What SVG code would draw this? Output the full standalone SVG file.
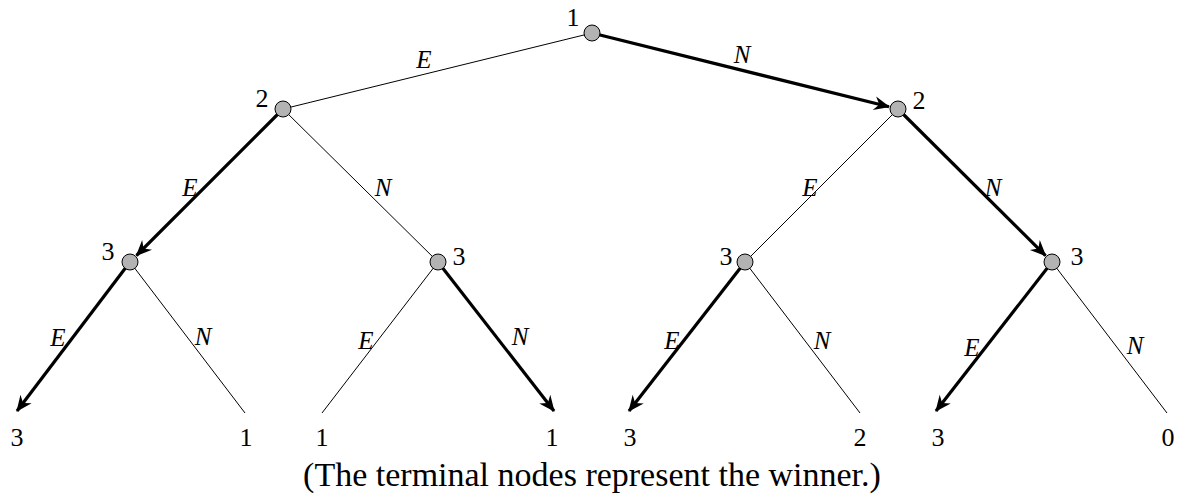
<svg xmlns="http://www.w3.org/2000/svg" width="1187" height="498" viewBox="0 0 1187 498">
<style>
.thin{stroke:#000;stroke-width:1;fill:none}
.bold{stroke:#000;stroke-width:3.2;fill:none}
.arr{marker-end:url(#ah)}
.node{fill:#b3b3b3;stroke:#000;stroke-width:1}
.lbl{font-family:"Liberation Serif","DejaVu Serif",serif;font-size:26px;fill:#000}
.el{font-family:"Liberation Serif","DejaVu Serif",serif;font-size:25px;font-style:italic;fill:#000}
.cap{font-family:"Liberation Serif","DejaVu Serif",serif;font-size:34px;fill:#000}
</style>
<defs>
<marker id="ah" markerUnits="userSpaceOnUse" viewBox="-16 -8 18 16" refX="0" refY="0" markerWidth="18" markerHeight="16" orient="auto">
<path d="M1,0 L-15,-7 L-10,0 L-15,7 Z" fill="#000"/>
</marker>
</defs>
<g id="connectors">
<line class="thin" x1="592" y1="33" x2="283" y2="109"/>
<line class="bold arr" x1="592" y1="33" x2="889" y2="106.8"/>
<line class="bold arr" x1="283" y1="109" x2="136.5" y2="255.5"/>
<line class="thin" x1="283" y1="109" x2="438" y2="262"/>
<line class="thin" x1="898" y1="109" x2="745" y2="262"/>
<line class="bold arr" x1="898" y1="109" x2="1045.5" y2="255.6"/>
<line class="bold arr" x1="130" y1="262" x2="17" y2="411"/>
<line class="thin" x1="130" y1="262" x2="245" y2="413"/>
<line class="thin" x1="438" y1="262" x2="322" y2="413"/>
<line class="bold arr" x1="438" y1="262" x2="554" y2="411"/>
<line class="bold arr" x1="745" y1="262" x2="629" y2="411"/>
<line class="thin" x1="745" y1="262" x2="860" y2="413"/>
<line class="bold arr" x1="1052" y1="262" x2="936" y2="411"/>
<line class="thin" x1="1052" y1="262" x2="1167" y2="413"/>
<text class="el" x="424" y="68" text-anchor="middle">E</text>
<text class="el" x="742" y="63" text-anchor="middle">N</text>
<text class="el" x="190" y="196" text-anchor="middle">E</text>
<text class="el" x="383" y="196" text-anchor="middle">N</text>
<text class="el" x="810" y="196" text-anchor="middle">E</text>
<text class="el" x="993" y="196" text-anchor="middle">N</text>
<text class="el" x="58" y="346" text-anchor="middle">E</text>
<text class="el" x="203" y="345" text-anchor="middle">N</text>
<text class="el" x="366" y="349" text-anchor="middle">E</text>
<text class="el" x="520" y="345" text-anchor="middle">N</text>
<text class="el" x="672" y="349" text-anchor="middle">E</text>
<text class="el" x="822" y="349" text-anchor="middle">N</text>
<text class="el" x="972" y="356" text-anchor="middle">E</text>
<text class="el" x="1135" y="354" text-anchor="middle">N</text>
</g>
<g id="n1"><circle class="node" cx="592" cy="33" r="8"/><text class="lbl" x="573" y="26" text-anchor="middle">1</text></g>
<g id="n2L"><circle class="node" cx="283" cy="109" r="8"/><text class="lbl" x="262" y="107" text-anchor="middle">2</text></g>
<g id="n2R"><circle class="node" cx="898" cy="109" r="8"/><text class="lbl" x="919" y="109" text-anchor="middle">2</text></g>
<g id="n3a"><circle class="node" cx="130" cy="262" r="8"/><text class="lbl" x="108" y="260" text-anchor="middle">3</text></g>
<g id="n3b"><circle class="node" cx="438" cy="262" r="8"/><text class="lbl" x="459" y="265" text-anchor="middle">3</text></g>
<g id="n3c"><circle class="node" cx="745" cy="262" r="8"/><text class="lbl" x="726" y="265" text-anchor="middle">3</text></g>
<g id="n3d"><circle class="node" cx="1052" cy="262" r="8"/><text class="lbl" x="1077" y="265" text-anchor="middle">3</text></g>
<g id="t1"><text class="lbl" x="17" y="446" text-anchor="middle">3</text></g>
<g id="t2"><text class="lbl" x="246" y="446" text-anchor="middle">1</text></g>
<g id="t3"><text class="lbl" x="322" y="446" text-anchor="middle">1</text></g>
<g id="t4"><text class="lbl" x="552" y="446" text-anchor="middle">1</text></g>
<g id="t5"><text class="lbl" x="630" y="446" text-anchor="middle">3</text></g>
<g id="t6"><text class="lbl" x="860" y="446" text-anchor="middle">2</text></g>
<g id="t7"><text class="lbl" x="938" y="446" text-anchor="middle">3</text></g>
<g id="t8"><text class="lbl" x="1168" y="446" text-anchor="middle">0</text></g>
<text class="cap" x="592" y="486" text-anchor="middle">(The terminal nodes represent the winner.)</text>
</svg>
